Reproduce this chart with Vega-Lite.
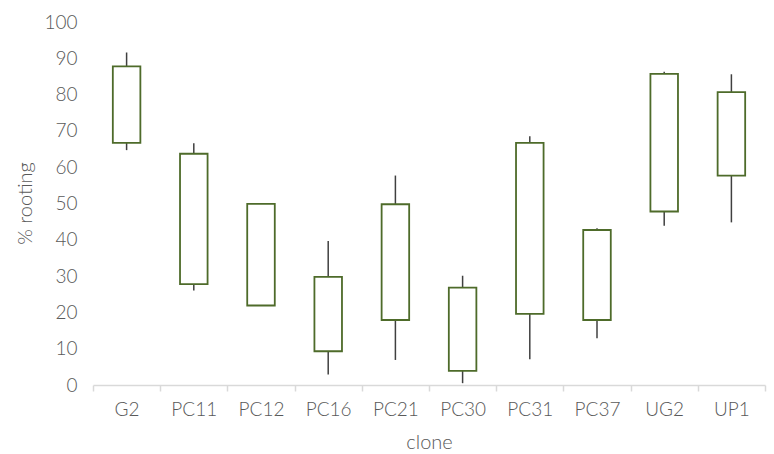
{
  "$schema": "https://vega.github.io/schema/vega-lite/v6.json",
  "width": 672,
  "height": 363,
  "autosize": {"type": "none"},
  "padding": {"left": 93, "top": 22, "right": 9, "bottom": 69},
  "background": "white",
  "config": {
    "view": {"stroke": null},
    "font": "Lato",
    "axis": {"grid": false, "labelFont": "Lato", "titleFont": "Lato", "labelColor": "#595959", "titleColor": "#595959", "labelFontWeight": 300, "titleFontWeight": 300, "labelFontSize": 19, "titleFontSize": 20}
  },
  "data": {
    "values": [
      {"clone": "G2", "low": 66.7, "high": 87.8, "max": 91.6, "lo": 64.7},
      {"clone": "PC11", "low": 27.8, "high": 63.7, "max": 66.6, "lo": 26},
      {"clone": "PC12", "low": 21.9, "high": 49.9, "max": 49.9, "lo": 21.9},
      {"clone": "PC16", "low": 9.3, "high": 29.8, "max": 39.7, "lo": 2.9},
      {"clone": "PC21", "low": 17.9, "high": 49.8, "max": 57.7, "lo": 6.9},
      {"clone": "PC30", "low": 3.9, "high": 26.8, "max": 30.1, "lo": 0.5},
      {"clone": "PC31", "low": 19.6, "high": 66.7, "max": 68.5, "lo": 7.1},
      {"clone": "PC37", "low": 17.9, "high": 42.7, "max": 43.2, "lo": 12.9},
      {"clone": "UG2", "low": 47.8, "high": 85.7, "max": 86.3, "lo": 43.9},
      {"clone": "UP1", "low": 57.7, "high": 80.7, "max": 85.6, "lo": 44.8}
    ]
  },
  "encoding": {
    "x": {
      "field": "clone", "type": "nominal", "sort": null,
      "scale": {"paddingInner": 0, "paddingOuter": 0},
      "axis": {
        "title": "clone", "labelAngle": 0, "labelFontSize": 19, "titleFontSize": 20,
        "domainColor": "#d9d9d9", "domainWidth": 1.5, "tickColor": "#d9d9d9", "tickWidth": 1.5,
        "tickSize": 6, "tickBand": "extent", "labelPadding": 9, "labelOverlap": false,
        "titleY": 57, "titleBaseline": "middle"
      }
    }
  },
  "layer": [
    {
      "mark": {"type": "rule", "color": "#404040", "strokeWidth": 1.5},
      "encoding": {
        "y": {"field": "lo", "type": "quantitative", "scale": {"domain": [0, 100]},
          "axis": {"title": "% rooting", "values": [0,10,20,30,40,50,60,70,80,90,100], "domain": false, "ticks": false, "labelFontSize": 19, "titleFontSize": 20, "labelPadding": 16, "labelOverlap": false,
            "titleX": -68, "titleY": 181, "titleAlign": "center", "titleBaseline": "middle", "titleAngle": -90}},
        "y2": {"field": "max"}
      }
    },
    {
      "mark": {"type": "bar", "fill": "white", "stroke": "#4e6b2a", "strokeWidth": 1.8, "width": {"band": 0.41}},
      "encoding": {
        "y": {"field": "low", "type": "quantitative", "scale": {"domain": [0, 100]},
          "axis": {"title": "% rooting", "values": [0,10,20,30,40,50,60,70,80,90,100], "domain": false, "ticks": false, "labelFontSize": 19, "titleFontSize": 20, "labelPadding": 16, "labelOverlap": false,
            "titleX": -68, "titleY": 181, "titleAlign": "center", "titleBaseline": "middle", "titleAngle": -90}},
        "y2": {"field": "high"}
      }
    }
  ]
}
